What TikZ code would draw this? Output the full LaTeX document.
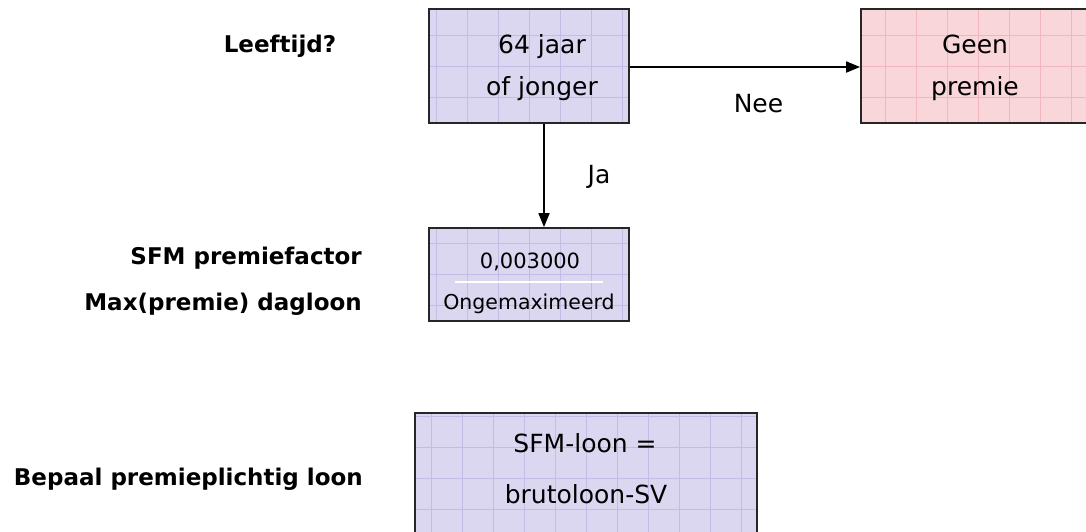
\documentclass[tikz,border=0pt]{standalone}
\usepackage{fontspec}
\setmainfont{DejaVu Sans}
\usetikzlibrary{arrows.meta}
\definecolor{lav}{RGB}{219,215,240}
\definecolor{lavline}{RGB}{196,188,228}
\definecolor{pinkfill}{RGB}{249,214,218}
\definecolor{pinkline}{RGB}{242,182,190}
\tikzset{
  box/.style={draw=black!85, line width=1.8pt, rectangle, inner sep=0pt},
  lavbox/.style={box, fill=lav, path picture={\draw[lavline, line width=0.7pt] ([shift={(-1pt,-1pt)}]path picture bounding box.south west) grid[step=31pt] ([shift={(1pt,1pt)}]path picture bounding box.north east);}},
  pinkbox/.style={box, fill=pinkfill, path picture={\draw[pinkline, line width=0.7pt] ([shift={(-1pt,-1pt)}]path picture bounding box.south west) grid[step=31pt] ([shift={(1pt,1pt)}]path picture bounding box.north east);}},
  boxtext/.style={inner sep=0pt, anchor=base, font=\fontsize{25}{30}\selectfont},
  midtext/.style={inner sep=0pt, anchor=base, font=\fontsize{21}{25}\selectfont},
  smalltext/.style={inner sep=0pt, anchor=base, font=\fontsize{20.5}{25}\selectfont},
  label/.style={inner sep=0pt, font=\fontsize{23}{28}\selectfont\bfseries},
  arr/.style={line width=1.8pt, -{Triangle[length=14pt,width=11pt]}},
}
\begin{document}
\begin{tikzpicture}[x=1pt,y=-1pt]
\useasboundingbox (0,0) rectangle (1086,531);
\clip (0,0) rectangle (1086,531);
\fill[white] (0,0) rectangle (1086,531);

% boxes
\node[lavbox, minimum width=200pt, minimum height=114pt] (b1) at (529,66) {};
\node[pinkbox, minimum width=235pt, minimum height=114pt] (b2) at (978.5,66) {};
\node[lavbox, minimum width=200pt, minimum height=93pt] (b3) at (529,274.5) {};
\node[lavbox, minimum width=342pt, minimum height=130pt] (b4) at (586,478) {};

% box texts
\node[boxtext] (t1a) at (542,53) {64 jaar};
\node[boxtext] (t1b) at (542,95) {of jonger};
\node[boxtext] (t2a) at (975,53) {Geen};
\node[boxtext] (t2b) at (975,95) {premie};
\node[midtext] (t3a) at (530,268) {0,003000};
\draw[white, line width=1.4pt] (455,282) -- (603,282);
\node[smalltext] (t3b) at (529,309) {Ongemaximeerd};
\node[boxtext] (t4a) at (585,452) {SFM-loon =};
\node[boxtext] (t4b) at (586,503) {brutoloon-SV};

% left labels
\node[label] (l1) at (280,46) {Leeftijd?};
\node[label, anchor=east] (l2) at (362,258) {SFM premiefactor};
\node[label, anchor=east] (l3) at (362,304) {Max(premie) dagloon};
\node[label, anchor=east] (l4) at (363,479) {Bepaal premieplichtig loon};

% connectors
\draw[arr] ([yshift=-1pt]b1.east) -- ([yshift=-1pt]b1.east -| b2.west);
\draw[arr] ([xshift=15pt]b1.south) -- ([xshift=15pt]b1.south |- b3.north);
\node[boxtext] (nee) at (758.5,112) {Nee};
\node[boxtext] (ja) at (599,183) {Ja};
\end{tikzpicture}
\end{document}
